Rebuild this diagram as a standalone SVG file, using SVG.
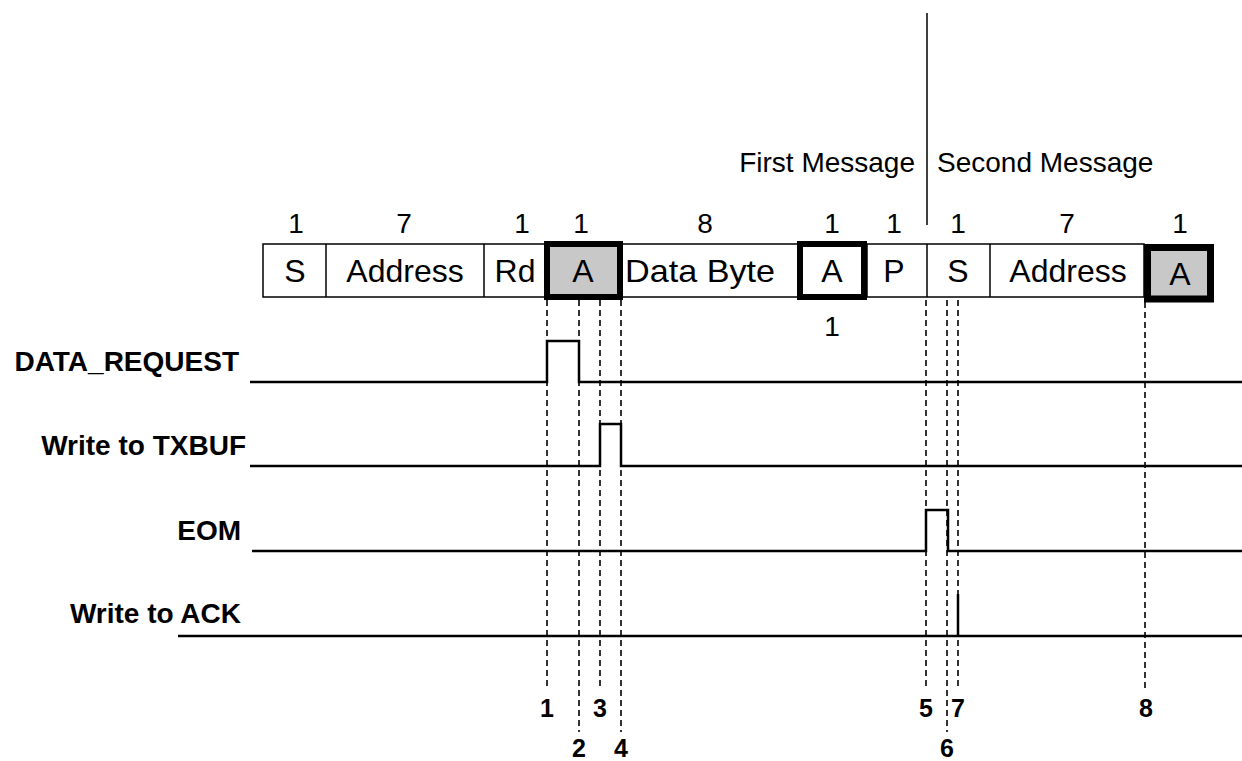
<svg xmlns="http://www.w3.org/2000/svg" width="1242" height="761" viewBox="0 0 1242 761">
<style>
.t{font-family:"Liberation Sans",Arial,sans-serif;font-size:28px;fill:#000;text-anchor:middle}
.bl{font-family:"Liberation Sans",Arial,sans-serif;font-size:32px;fill:#000;text-anchor:middle}
.lb{font-family:"Liberation Sans",Arial,sans-serif;font-size:28px;font-weight:bold;fill:#000;text-anchor:end}
.n{font-family:"Liberation Sans",Arial,sans-serif;font-size:25px;font-weight:bold;fill:#000;text-anchor:middle}
.thin{fill:none;stroke:#000;stroke-width:1.5}
.sig{fill:none;stroke:#000;stroke-width:2.5}
.dash{fill:none;stroke:#000;stroke-width:1.6;stroke-dasharray:6 4}
.thick{stroke:#000;stroke-width:6}
</style>
<rect width="1242" height="761" fill="#fff"/>
<g id="header">
<line class="thin" x1="927" y1="13" x2="927" y2="225"/>
<text class="t" x="915" y="172" style="text-anchor:end">First Message</text>
<text class="t" x="937" y="172" style="text-anchor:start">Second Message</text>
</g>
<g id="bit-counts">
<text class="t" x="296" y="233">1</text>
<text class="t" x="404" y="233">7</text>
<text class="t" x="522" y="233">1</text>
<text class="t" x="581" y="233">1</text>
<text class="t" x="705" y="233">8</text>
<text class="t" x="832" y="233">1</text>
<text class="t" x="894" y="233">1</text>
<text class="t" x="958" y="233">1</text>
<text class="t" x="1067" y="233">7</text>
<text class="t" x="1180" y="233">1</text>
<text class="t" x="832" y="336">1</text>
</g>
<g id="frame">
<rect class="thin" x="263" y="244" width="881" height="53" fill="#fff"/>
<line class="thin" x1="326" y1="244" x2="326" y2="297"/>
<line class="thin" x1="484" y1="244" x2="484" y2="297"/>
<line class="thin" x1="927" y1="244" x2="927" y2="297"/>
<line class="thin" x1="990" y1="244" x2="990" y2="297"/>
<line class="thin" x1="867" y1="244" x2="867" y2="297"/>
</g>
<g id="field-S1"><text class="bl" x="295" y="282">S</text></g>
<g id="field-Address1"><text class="bl" x="405" y="282">Address</text></g>
<g id="field-Rd"><text class="bl" x="515" y="282">Rd</text></g>
<g id="field-A1">
<rect class="thick" x="547" y="244" width="73" height="53" fill="#c8c8c8"/>
<text class="bl" x="583" y="282">A</text>
</g>
<g id="field-DataByte"><text class="bl" x="700" y="282" textLength="150" lengthAdjust="spacingAndGlyphs">Data Byte</text></g>
<g id="field-A2">
<rect class="thick" x="800" y="244" width="64" height="53" fill="#fff"/>
<text class="bl" x="832" y="282">A</text>
</g>
<g id="field-P"><text class="bl" x="894" y="282">P</text></g>
<g id="field-S2"><text class="bl" x="958" y="282">S</text></g>
<g id="field-Address2"><text class="bl" x="1068" y="282">Address</text></g>
<g id="field-A3">
<rect class="thick" x="1147.5" y="247.5" width="63" height="51.5" fill="#c8c8c8" style="stroke-width:7"/>
<text class="bl" x="1180" y="285">A</text>
</g>
<g id="signal-labels">
<text class="lb" x="239" y="371">DATA_REQUEST</text>
<text class="lb" x="246" y="455">Write to TXBUF</text>
<text class="lb" x="241" y="540">EOM</text>
<text class="lb" x="241" y="623">Write to ACK</text>
</g>
<g id="signals">
<polyline class="sig" points="250,382 547,382 547,341 579,341 579,382 1242,382"/>
<polyline class="sig" points="250,466 600,466 600,424 621,424 621,466 1242,466"/>
<polyline class="sig" points="252,551 926,551 926,510 948,510 948,551 1242,551"/>
<polyline class="sig" points="178,636 958,636 958,594 958,636 1242,636"/>
</g>
<g id="connectors">
<line class="dash" x1="547" y1="300" x2="547" y2="689"/>
<line class="dash" x1="579" y1="300" x2="579" y2="732"/>
<line class="dash" x1="600" y1="300" x2="600" y2="689"/>
<line class="dash" x1="621" y1="300" x2="621" y2="732"/>
<line class="dash" x1="926" y1="300" x2="926" y2="689"/>
<line class="dash" x1="947" y1="300" x2="947" y2="732"/>
<line class="dash" x1="958" y1="300" x2="958" y2="689"/>
<line class="dash" x1="1145" y1="302" x2="1145" y2="689"/>
</g>
<g id="markers">
<text class="n" x="547" y="717">1</text>
<text class="n" x="579" y="757">2</text>
<text class="n" x="600" y="717">3</text>
<text class="n" x="621" y="757">4</text>
<text class="n" x="926" y="717">5</text>
<text class="n" x="947" y="757">6</text>
<text class="n" x="958" y="717">7</text>
<text class="n" x="1146" y="717">8</text>
</g>
</svg>
